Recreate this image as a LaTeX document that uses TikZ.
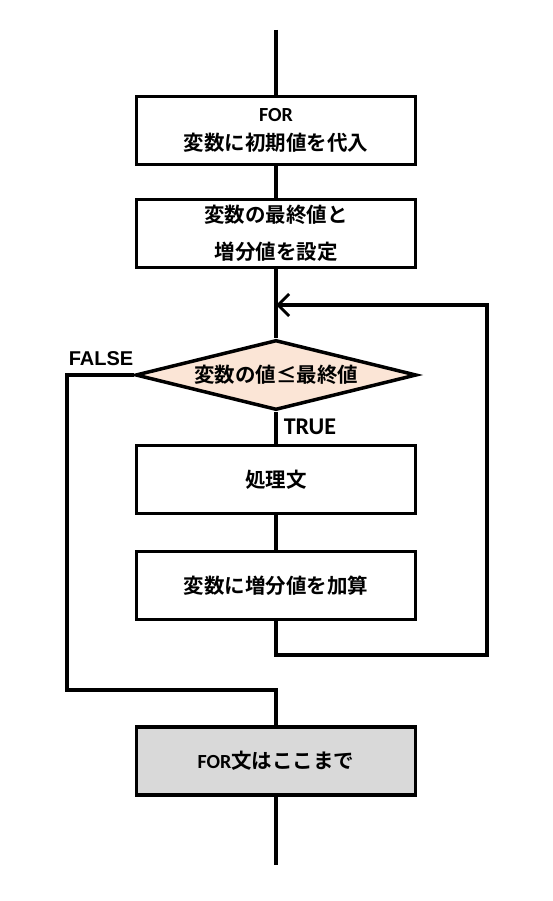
\documentclass[tikz,border=0pt]{standalone}
\usepackage{fontspec}
\newfontfamily\jp{Noto Sans CJK JP Bold}
\newfontfamily\latin{Carlito Bold}
\newfontfamily\arial{Liberation Sans Bold}
\usetikzlibrary{shapes.geometric,positioning,arrows.meta}
\definecolor{condfill}{HTML}{FBE5D6}
\definecolor{donefill}{HTML}{D9D9D9}

\begin{document}
\begin{tikzpicture}[
	x=1pt, y=1pt,
	node distance=100pt,
	on grid,
	line width=3.5pt,
	align=center,
	box/.style={
		rectangle,
		draw,
		minimum width=279pt,
		minimum height=68pt,
		font=\jp\fontsize{20.5}{37}\selectfont
	},
	decision/.style={
		diamond,
		draw,
		fill=condfill,
		aspect=4,
		inner sep=0pt,
		minimum width=281pt,
		minimum height=70pt,
		font=\jp\fontsize{20.5}{24}\selectfont
	},
	flow/.style={draw, line join=miter}]

   \useasboundingbox (0,0) rectangle (553,-901);

   \coordinate (start) at (276,-30);
   \node[box] (init) at (276,-130.5) {{\latin\fontsize{20}{20}\selectfont FOR}\\[-8pt]変数に初期値を代入};
   \node[box, below=103pt of init] (limit) {変数の最終値と\\増分値を設定};
   \node[decision, below=141.5pt of limit] (cond) {変数の値≤最終値};
   \node[box, below=104.5pt of cond] (body) {処理文};
   \node[box, below=106pt of body] (incr) {変数に増分値を加算};
   \node[box, fill=donefill, below=175.5pt of incr] (done) {{\latin\fontsize{20}{20}\selectfont FOR}文はここまで};
   \coordinate (stop) at (276,-865);

   % loop back and exit
   \coordinate (loopin) at (276,-305);
   \coordinate (loopright) at (487,-655);
   \coordinate (falseleft) at (67,-375);
   \coordinate (falsedown) at (276,-690);

   \node[font=\arial\fontsize{20}{20}\selectfont, anchor=south west, inner sep=0pt] (nolabel) at (67,-367) {FALSE};
   \node[font=\latin\fontsize{24}{24}\selectfont, anchor=south west, inner sep=0pt] (yeslabel) at (282,-436) {TRUE};

   \path[flow]
    (start) -- (init)
    (init) -- (limit)
    (limit) -- (cond)
    (cond) -- (body)
    (body) -- (incr)
    (done) -- (stop);
   \draw[flow, -{Straight Barb[length=11pt,width=22pt,line width=3pt]}]
    (incr.south) |- (loopright) |- (loopin);
   \draw[flow]
    (cond.west) -- (falseleft) |- (falsedown) -- (done.north);
\end{tikzpicture}
\end{document}
